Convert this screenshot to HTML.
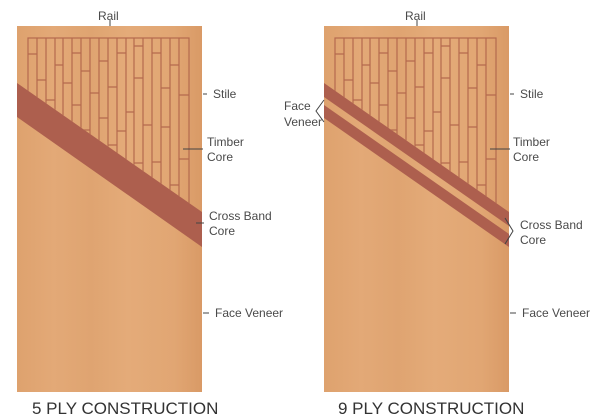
<!DOCTYPE html>
<html><head><meta charset="utf-8"><style>
html,body{margin:0;padding:0;background:#fff;width:600px;height:420px;overflow:hidden}
svg{display:block}
text{font-family:"Liberation Sans",sans-serif;fill:#4a4a4a}
</style></head><body>
<svg width="600" height="420" viewBox="0 0 600 420">
<defs>
<linearGradient id="wood" x1="0" y1="0" x2="1" y2="0">
<stop offset="0" stop-color="#dea26e"/>
<stop offset="0.2" stop-color="#e3a977"/>
<stop offset="0.4" stop-color="#dfa471"/>
<stop offset="0.6" stop-color="#e4ab79"/>
<stop offset="0.85" stop-color="#e1a673"/>
<stop offset="1" stop-color="#d99a66"/>
</linearGradient>
<g id="core">
<rect x="28" y="38" width="161" height="180" fill="none" stroke="#b56a4e" stroke-width="1.2"/>
<g stroke="#b56a4e" stroke-width="1.2">
<line x1="37" y1="38" x2="37" y2="220"/><line x1="46" y1="38" x2="46" y2="220"/><line x1="55" y1="38" x2="55" y2="220"/><line x1="63" y1="38" x2="63" y2="220"/><line x1="72" y1="38" x2="72" y2="220"/><line x1="81" y1="38" x2="81" y2="220"/><line x1="90" y1="38" x2="90" y2="220"/><line x1="99" y1="38" x2="99" y2="220"/><line x1="108" y1="38" x2="108" y2="220"/><line x1="117" y1="38" x2="117" y2="220"/><line x1="126" y1="38" x2="126" y2="220"/><line x1="134" y1="38" x2="134" y2="220"/><line x1="143" y1="38" x2="143" y2="220"/><line x1="152" y1="38" x2="152" y2="220"/><line x1="161" y1="38" x2="161" y2="220"/><line x1="170" y1="38" x2="170" y2="220"/><line x1="179" y1="38" x2="179" y2="220"/>
<line x1="28" y1="54" x2="37" y2="54"/><line x1="28" y1="99" x2="37" y2="99"/>
<line x1="37" y1="80" x2="46" y2="80"/><line x1="46" y1="100" x2="55" y2="100"/>
<line x1="55" y1="65" x2="63" y2="65"/><line x1="55" y1="120" x2="63" y2="120"/>
<line x1="63" y1="83" x2="72" y2="83"/><line x1="72" y1="53" x2="81" y2="53"/><line x1="72" y1="105" x2="81" y2="105"/>
<line x1="81" y1="71" x2="90" y2="71"/><line x1="81" y1="130" x2="90" y2="130"/>
<line x1="90" y1="93" x2="99" y2="93"/><line x1="99" y1="61" x2="108" y2="61"/><line x1="99" y1="118" x2="108" y2="118"/>
<line x1="108" y1="87" x2="117" y2="87"/><line x1="108" y1="145" x2="117" y2="145"/>
<line x1="117" y1="53" x2="126" y2="53"/><line x1="117" y1="131" x2="126" y2="131"/>
<line x1="126" y1="112" x2="134" y2="112"/><line x1="134" y1="46" x2="143" y2="46"/><line x1="134" y1="78" x2="143" y2="78"/><line x1="134" y1="163" x2="143" y2="163"/>
<line x1="143" y1="125" x2="152" y2="125"/><line x1="152" y1="53" x2="161" y2="53"/><line x1="152" y1="162" x2="161" y2="162"/>
<line x1="161" y1="88" x2="170" y2="88"/><line x1="161" y1="127" x2="170" y2="127"/>
<line x1="170" y1="65" x2="179" y2="65"/><line x1="170" y1="185" x2="179" y2="185"/>
<line x1="179" y1="95" x2="189" y2="95"/><line x1="179" y1="159" x2="189" y2="159"/>
</g>
</g>
<clipPath id="cl"><polygon points="17,26 202,26 202,212 17,83"/></clipPath>
</defs>

<rect x="17" y="26" width="185" height="366" fill="url(#wood)"/>
<g clip-path="url(#cl)"><use href="#core"/></g>
<polygon points="17,83 202,212 202,247 17,117" fill="#ad5f4e"/>

<rect x="324" y="26" width="185" height="366" fill="url(#wood)"/>
<g clip-path="url(#cl)" transform="translate(307,0)"><use href="#core"/></g>
<polygon points="324,83 509,212 509,226 324,97" fill="#ad5f4e"/>
<polygon points="324,105 509,234 509,247 324,118" fill="#ad5f4e"/>

<g font-size="12">
<text x="98" y="20">Rail</text>
<line x1="110" y1="20" x2="110" y2="26" stroke="#444"/>
<line x1="203" y1="94" x2="207" y2="94" stroke="#444"/>
<text x="213" y="98">Stile</text>
<line x1="183" y1="149" x2="203" y2="149" stroke="#444"/>
<text x="207" y="146">Timber</text><text x="207" y="161">Core</text>
<line x1="196" y1="223" x2="204" y2="223" stroke="#444"/>
<text x="209" y="220">Cross Band</text><text x="209" y="235">Core</text>
<line x1="203" y1="313" x2="209" y2="313" stroke="#444"/>
<text x="215" y="317">Face Veneer</text>

<text x="405" y="20">Rail</text>
<line x1="417" y1="20" x2="417" y2="26" stroke="#444"/>
<line x1="510" y1="94" x2="514" y2="94" stroke="#444"/>
<text x="520" y="98">Stile</text>
<line x1="490" y1="149" x2="510" y2="149" stroke="#444"/>
<text x="513" y="146">Timber</text><text x="513" y="161">Core</text>
<polyline points="505,218 513,231 505,244" fill="none" stroke="#444"/>
<text x="520" y="229">Cross Band</text><text x="520" y="244">Core</text>
<line x1="510" y1="313" x2="516" y2="313" stroke="#444"/>
<text x="522" y="317">Face Veneer</text>
<text x="284" y="110">Face</text><text x="284" y="126">Veneer</text>
<polyline points="324,100 316,111 324,122" fill="none" stroke="#444"/>
</g>

<text x="32" y="414" font-size="17" style="fill:#333">5 PLY CONSTRUCTION</text>
<text x="338" y="414" font-size="17" style="fill:#333">9 PLY CONSTRUCTION</text>
</svg>
</body></html>
